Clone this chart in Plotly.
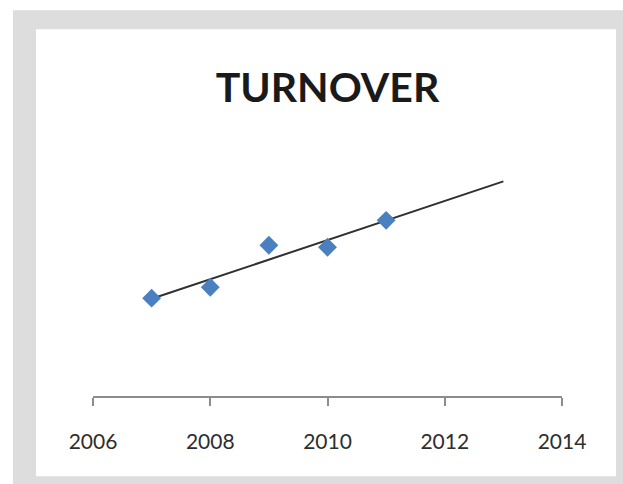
import numpy as np
import plotly.graph_objects as go

# Data (y-axis unlabeled, arbitrary units)
years = [2007, 2008, 2009, 2010, 2011]
turnover = [98, 109, 151, 149, 176]
tick_years = [2006, 2008, 2010, 2012, 2014]
trend_years = [2007, 2013]
title_text = "TURNOVER"

W, H = 623, 484
ML, MR, MT, MB = 93, 61, 130, 87.5
pw, ph = W - ML - MR, H - MT - MB

def px_x(p):
    return (p - ML) / pw

def px_y(p):
    return (H - MB - p) / ph

slope, intercept = np.polyfit(years, turnover, 1)
trend_vals = [slope * x + intercept for x in trend_years]

fig = go.Figure()
fig.add_trace(go.Scatter(
    x=trend_years, y=trend_vals, mode="lines",
    line=dict(color="#303030", width=2), hoverinfo="skip", showlegend=False))
fig.add_trace(go.Scatter(
    x=years, y=turnover, mode="markers",
    marker=dict(symbol="diamond", size=14.5, color="#4a80bf",
                line=dict(width=0)), showlegend=False))

# gray frame and white inner panel
fig.add_shape(type="rect", xref="paper", yref="paper", layer="below",
              x0=px_x(13), x1=px_x(640), y0=px_y(500), y1=px_y(10),
              fillcolor="#dddddd", line=dict(width=0))
fig.add_shape(type="rect", xref="paper", yref="paper", layer="below",
              x0=px_x(36), x1=px_x(616), y0=px_y(477), y1=px_y(29),
              fillcolor="#ffffff", line=dict(width=0))

fig.update_layout(
    width=W, height=H,
    margin=dict(l=ML, r=MR, t=MT, b=MB),
    paper_bgcolor="#ffffff", plot_bgcolor="rgba(0,0,0,0)",
    title=dict(text="<b>" + title_text + "</b>", x=0.5, xref="paper",
               xanchor="center", yref="container", y=1 - 88 / H,
               yanchor="middle",
               font=dict(family="Lato", size=41, color="#1a1a1a")),
    xaxis=dict(range=[2006, 2014], tickvals=tick_years,
               ticktext=[str(t) for t in tick_years],
               showline=True, linecolor="#8c8c8c", linewidth=1.5,
               ticks="outside", ticklen=8, tickcolor="#8c8c8c", tickwidth=1.5,
               ticklabelstandoff=18,
               showgrid=False, zeroline=False,
               tickfont=dict(family="Lato", size=21, color="#2e2e2e")),
    yaxis=dict(range=[0, ph], visible=False, showgrid=False, zeroline=False),
)

fig.write_html("out.html")
